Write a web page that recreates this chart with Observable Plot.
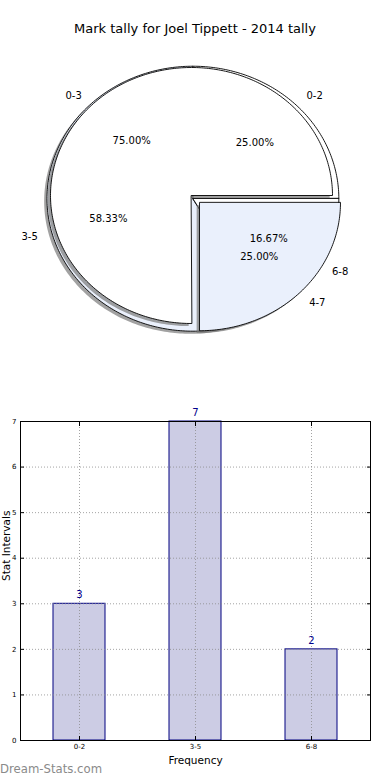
<!DOCTYPE html>
<html><head><meta charset="utf-8">
<script src="https://cdn.jsdelivr.net/npm/d3@7"></script>
<script src="https://cdn.jsdelivr.net/npm/@observablehq/plot@0.6"></script>
<style>
body{margin:0;background:#fff;width:390px;height:780px;position:relative;overflow:hidden;font-family:"DejaVu Sans",sans-serif;}
#pie{position:absolute;top:0;left:0;}
#title{position:absolute;top:21px;left:0;width:390px;text-align:center;font-size:13px;line-height:16px;color:#000;}
#bar{position:absolute;top:400px;left:0;}
#wm{position:absolute;left:0;top:762px;font-size:11.7px;line-height:15px;color:#8a8a8a;}
</style></head><body>
<div id="pie"></div>
<div id="title"></div>
<div id="bar"></div>
<div id="wm"></div>
<script>
// ---- data ----
const titleText = "Mark tally for Joel Tippett - 2014 tally";
const watermark = "Dream-Stats.com";
const innerCats = ["0-3", "4-7"];
const innerCounts = [9, 3];
const outerCats = ["0-2", "3-5", "6-8"];
const outerCounts = [3, 7, 2];
const barCats = ["0-2", "3-5", "6-8"];
const barValues = [3, 7, 2];
const yTicks = [0, 1, 2, 3, 4, 5, 6, 7];
const xLabel = "Frequency";
const yLabel = "Stat Intervals";

document.getElementById("title").textContent = titleText;
document.getElementById("wm").textContent = watermark;

// ---- pie geometry (data units, unit radius) ----
const innerOpts = {cx: 0, cy: 0, r: 1, explode: [0, 0.08], fills: ["#ffffff", "#eaf0fc"]};
const outerOpts = {cx: 0.01, cy: -0.025, r: 1.035, explode: [0, 0, 0], fills: ["#ffffff", "#eaf0fc"]};
const shadowOff = 0.02;

function wedges(cats, counts, o) {
  const total = d3.sum(counts);
  let a = 0;
  return cats.map((c, i) => {
    const frac = counts[i] / total;
    const a0 = a, a1 = a + frac * 360; a = a1;
    const mid = (a0 + a1) / 2 * Math.PI / 180;
    const e = o.explode[i] * o.r;
    const ox = o.cx + e * Math.cos(mid), oy = o.cy + e * Math.sin(mid);
    const pts = [{x: ox, y: oy}];
    const n = Math.max(4, Math.ceil(a1 - a0));
    for (let k = 0; k <= n; k++) {
      const t = (a0 + (a1 - a0) * k / n) * Math.PI / 180;
      pts.push({x: ox + o.r * Math.cos(t), y: oy + o.r * Math.sin(t)});
    }
    return {
      cat: c, pct: (frac * 100).toFixed(2) + "%", pts, fill: o.fills[i % o.fills.length],
      lx: ox + 1.1 * o.r * Math.cos(mid), ly: oy + 1.1 * o.r * Math.sin(mid),
      px: ox + 0.6 * o.r * Math.cos(mid), py: oy + 0.6 * o.r * Math.sin(mid)
    };
  });
}

const outerW = wedges(outerCats, outerCounts, outerOpts);
const innerW = wedges(innerCats, innerCounts, innerOpts);

function layer(ws) {
  const marks = [];
  ws.forEach(w => {
    marks.push(Plot.line(w.pts, {x: d => d.x - shadowOff, y: d => d.y - shadowOff, curve: "linear-closed", fill: "#7a7a7a", fillOpacity: 0.7, stroke: "none"}));
  });
  ws.forEach(w => {
    marks.push(Plot.line(w.pts, {x: "x", y: "y", curve: "linear-closed", fill: w.fill, stroke: "#000", strokeWidth: 0.9, strokeLinejoin: "miter"}));
  });
  return marks;
}

const allW = outerW.concat(innerW);
const pie = Plot.plot({
  width: 390, height: 390, margin: 0,
  style: {fontFamily: "DejaVu Sans", fontSize: "10px", background: "transparent", overflow: "visible"},
  x: {domain: [-1, 1], range: [50, 332], axis: null},
  y: {domain: [-1, 1], range: [323, 67], axis: null},
  marks: [
    ...layer(outerW),
    ...layer(innerW),
    Plot.text(allW.filter(w => w.lx >= 0), {x: "lx", y: "ly", text: "cat", textAnchor: "start", fill: "#000"}),
    Plot.text(allW.filter(w => w.lx < 0), {x: "lx", y: "ly", text: "cat", textAnchor: "end", fill: "#000"}),
    Plot.text(allW, {x: "px", y: "py", text: "pct", textAnchor: "middle", fill: "#000"})
  ]
});
document.getElementById("pie").appendChild(pie);

// ---- bar chart ----
const barData = barCats.map((c, i) => ({cat: c, value: barValues[i]}));
const gridStyle = {stroke: "#8c8c8c", strokeOpacity: 1, strokeWidth: 0.8, strokeDasharray: "1,2"};
const bar = Plot.plot({
  width: 390, height: 380,
  marginLeft: 20, marginRight: 20, marginTop: 21, marginBottom: 40,
  style: {fontFamily: "DejaVu Sans", fontSize: "7px", background: "white", overflow: "visible"},
  x: {type: "band", domain: barCats, paddingInner: 0.555, paddingOuter: 0.2775, label: null},
  y: {domain: [0, 7], label: null},
  marks: [
    Plot.barY(barData, {x: "cat", y: "value", fill: "#ccccE4", stroke: "#000080", strokeWidth: 1}),
    Plot.gridY(yTicks, gridStyle),
    Plot.gridX(barCats, gridStyle),
    Plot.frame({stroke: "#000", strokeWidth: 1}),
    Plot.axisY(yTicks, {anchor: "left", tickSize: 0, tickPadding: 4, label: null, fill: "#000"}),
    Plot.axisY(yTicks, {anchor: "left", tickSize: 4, dx: 4, tickFormat: () => "", label: null}),
    Plot.axisY(yTicks, {anchor: "right", tickSize: 4, dx: -4, tickFormat: () => "", label: null}),
    Plot.axisX(barCats, {anchor: "bottom", tickSize: 0, tickPadding: 4, label: null, fill: "#000"}),
    Plot.axisX(barCats, {anchor: "bottom", tickSize: 4, dy: -4, tickFormat: () => "", label: null}),
    Plot.axisX(barCats, {anchor: "top", tickSize: 4, dy: 4, tickFormat: () => "", label: null}),
    Plot.text(barData, {x: "cat", y: "value", text: d => String(d.value), dy: -9, fill: "#00008b", fontSize: 10}),
    Plot.text([xLabel], {frameAnchor: "bottom", dy: 20, lineAnchor: "middle", text: d => d, fontSize: 10.5, fill: "#000"}),
    Plot.text([yLabel], {frameAnchor: "left", dx: -14, rotate: -90, lineAnchor: "middle", text: d => d, fontSize: 10.5, fill: "#000"})
  ]
});
document.getElementById("bar").appendChild(bar);
</script>
</body></html>
